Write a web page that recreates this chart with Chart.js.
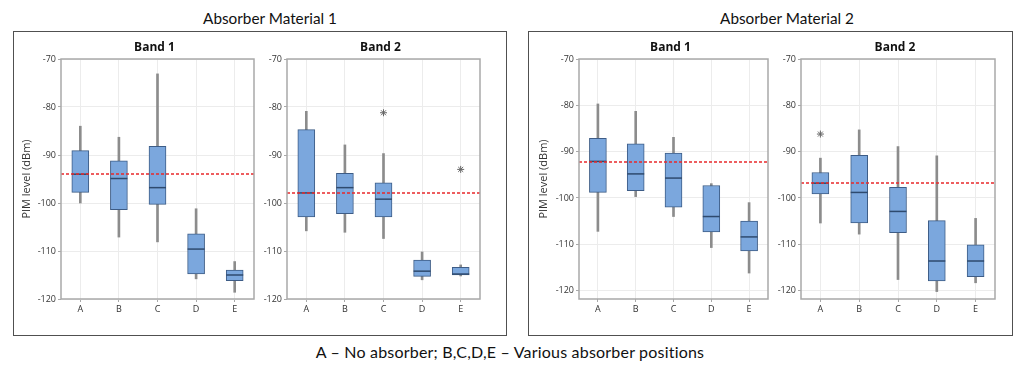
<!DOCTYPE html>
<html>
<head>
<meta charset="utf-8">
<script src="https://cdn.jsdelivr.net/npm/chart.js@4.4.0/dist/chart.umd.min.js"></script>
<style>
  body { margin: 0; background: #fff; width: 1024px; height: 368px; position: relative; overflow: hidden; font-family: Lato, sans-serif; }
  .frame { position: absolute; top: 31px; height: 305px; border: 1.5px solid #505050; box-sizing: border-box; }
  .mtitle { position: absolute; top: 9px; font-size: 15.3px; color: #111; text-align: center; width: 400px; }
  .caption { position: absolute; top: 342px; left: 0; width: 1020px; text-align: center; font-size: 16px; letter-spacing: 0.2px; color: #111; }
  .panel { position: absolute; top: 36px; }
</style>
</head>
<body>
<div class="mtitle" style="left:70px">Absorber Material 1</div>
<div class="mtitle" style="left:587px">Absorber Material 2</div>
<div class="frame" style="left:13px;width:494px"></div>
<div class="frame" style="left:528px;width:485px"></div>
<canvas id="p1" class="panel" width="250" height="282" style="left:14px"></canvas>
<canvas id="p2" class="panel" width="228" height="282" style="left:262px"></canvas>
<canvas id="p3" class="panel" width="247" height="282" style="left:531px"></canvas>
<canvas id="p4" class="panel" width="230" height="282" style="left:775px"></canvas>
<div class="caption">A – No absorber; B,C,D,E – Various absorber positions</div>
<script>
const categories = ['A', 'B', 'C', 'D', 'E'];

// Absorber Material 1, Band 1
const m1b1Low  = [-100.0, -107.1, -108.1, -115.8, -118.6];
const m1b1Q1   = [-97.8, -101.4, -100.3, -114.8, -116.2];
const m1b1Med  = [-94.0, -94.9, -96.8, -109.6, -115.0];
const m1b1Q3   = [-89.1, -91.2, -88.2, -106.4, -114.0];
const m1b1High = [-84.0, -86.3, -73.1, -101.2, -112.2];
const m1b1Out  = [null, null, null, null, null];
const m1b1Ref  = -94.0;

// Absorber Material 1, Band 2
const m1b2Low  = [-105.8, -106.1, -107.4, -116.0, -115.2];
const m1b2Q1   = [-102.9, -102.2, -102.9, -115.3, -115.0];
const m1b2Med  = [-97.9, -96.8, -99.2, -114.2, -114.8];
const m1b2Q3   = [-84.7, -93.8, -95.8, -111.9, -113.4];
const m1b2High = [-80.9, -87.9, -89.7, -110.2, -112.9];
const m1b2Out  = [null, null, -81.2, null, -93.0];
const m1b2Ref  = -97.9;

// Absorber Material 2, Band 1
const m2b1Low  = [-107.2, -99.7, -104.0, -110.7, -116.2];
const m2b1Q1   = [-98.8, -98.4, -102.0, -107.3, -111.4];
const m2b1Med  = [-92.1, -94.8, -95.7, -104.0, -108.4];
const m2b1Q3   = [-87.1, -88.3, -90.3, -97.3, -105.0];
const m2b1High = [-79.7, -81.3, -86.9, -96.9, -101.0];
const m2b1Out  = [null, null, null, null, null];
const m2b1Ref  = -92.3;

// Absorber Material 2, Band 2
const m2b2Low  = [-105.4, -107.8, -117.6, -120.2, -118.3];
const m2b2Q1   = [-99.1, -105.4, -107.5, -117.9, -117.0];
const m2b2Med  = [-96.8, -98.8, -102.9, -113.6, -113.6];
const m2b2Q3   = [-94.5, -90.8, -97.7, -104.9, -110.1];
const m2b2High = [-91.4, -85.3, -88.9, -90.9, -104.4];
const m2b2Out  = [-86.2, null, null, null, null];
const m2b2Ref  = -96.8;

const yTicksMax = -70;

const boxFill = '#7ba7dd';
const boxEdge = '#3d5c86';
const whiskerColor = '#8c8c8c';
const medianColor = '#2e4a6e';
const refColor = '#e8292b';
const frameColor = '#a9a9a9';
const gridColor = '#ececec';
const font = "'Open Sans', sans-serif";

const panels = [
  { id: 'p1', title: 'Band 1', low: m1b1Low, q1: m1b1Q1, med: m1b1Med, q3: m1b1Q3, high: m1b1High, out: m1b1Out, ref: m1b1Ref, min: -120, yWidth: 47, yTitle: true },
  { id: 'p2', title: 'Band 2', low: m1b2Low, q1: m1b2Q1, med: m1b2Med, q3: m1b2Q3, high: m1b2High, out: m1b2Out, ref: m1b2Ref, min: -120, yWidth: 25, yTitle: false },
  { id: 'p3', title: 'Band 1', low: m2b1Low, q1: m2b1Q1, med: m2b1Med, q3: m2b1Q3, high: m2b1High, out: m2b1Out, ref: m2b1Ref, min: -121.8, yWidth: 48, yTitle: true },
  { id: 'p4', title: 'Band 2', low: m2b2Low, q1: m2b2Q1, med: m2b2Med, q3: m2b2Q3, high: m2b2High, out: m2b2Out, ref: m2b2Ref, min: -121.8, yWidth: 26, yTitle: false }
];

// band title, reference line and plot frame, all placed from the chart's own area/scale
const panelDecor = {
  id: 'panelDecor',
  afterDatasetsDraw(chart, args, opts) {
    const { ctx, chartArea } = chart;
    const y = Math.round(chart.scales.y.getPixelForValue(opts.ref));
    ctx.save();
    ctx.globalAlpha = 1;
    ctx.strokeStyle = refColor;
    ctx.lineWidth = 1.5;
    ctx.setLineDash([3, 2]);
    ctx.beginPath();
    ctx.moveTo(chartArea.left, y);
    ctx.lineTo(chartArea.right, y);
    ctx.stroke();
    ctx.restore();
  },
  afterDraw(chart, args, opts) {
    const { ctx, chartArea } = chart;
    ctx.save();
    ctx.strokeStyle = frameColor;
    ctx.lineWidth = 1.5;
    ctx.strokeRect(chartArea.left, chartArea.top, chartArea.right - chartArea.left, chartArea.bottom - chartArea.top);
    ctx.fillStyle = '#111';
    ctx.font = "bold 12px " + font;
    ctx.textAlign = 'center';
    ctx.textBaseline = 'middle';
    ctx.fillText(opts.title, (chartArea.left + chartArea.right) / 2 - 3, chartArea.top - 11);
    ctx.restore();
  }
};

panels.forEach(p => {
  new Chart(document.getElementById(p.id), {
    type: 'bar',
    data: {
      labels: categories,
      datasets: [
        { type: 'bar', data: p.low.map((v, i) => [v, p.high[i]]), backgroundColor: whiskerColor, barThickness: 2, grouped: false, order: 3 },
        { type: 'bar', data: p.q1.map((v, i) => [v, p.q3[i]]), backgroundColor: boxFill, borderColor: boxEdge, borderWidth: 1, borderSkipped: false, barThickness: 17, grouped: false, order: 2 },
        { type: 'line', data: p.med, showLine: false, pointStyle: 'line', pointRadius: 8.5, borderColor: medianColor, borderWidth: 1.5, order: 1 },
        { type: 'line', data: p.out, showLine: false, pointStyle: 'star', pointRadius: 3.5, borderColor: '#666', borderWidth: 1, order: 0 }
      ]
    },
    options: {
      responsive: false,
      animation: false,
      devicePixelRatio: 1,
      layout: { padding: { left: 0, right: 6, top: 23, bottom: 0 } },
      plugins: {
        legend: { display: false },
        tooltip: { enabled: false },
        title: { display: false },
        panelDecor: { ref: p.ref, title: p.title }
      },
      scales: {
        x: {
          grid: { color: gridColor, offset: false, tickLength: 3, tickColor: frameColor },
          border: { display: false },
          ticks: { color: '#333', font: { family: font, size: 9 }, padding: 2 },
          afterFit: s => { s.height = 19; }
        },
        y: {
          min: p.min,
          max: yTicksMax,
          grid: { color: gridColor, tickLength: 3, tickColor: frameColor },
          border: { display: false },
          ticks: { stepSize: 10, includeBounds: false, color: '#333', font: { family: font, size: 9 }, padding: 2 },
          title: { display: p.yTitle, text: 'PIM level (dBm)', color: '#333', font: { family: font, size: 11 }, padding: { top: 6, bottom: 0 } },
          afterFit: s => { s.width = p.yWidth; }
        }
      }
    },
    plugins: [panelDecor]
  });
});
</script>
</body>
</html>
